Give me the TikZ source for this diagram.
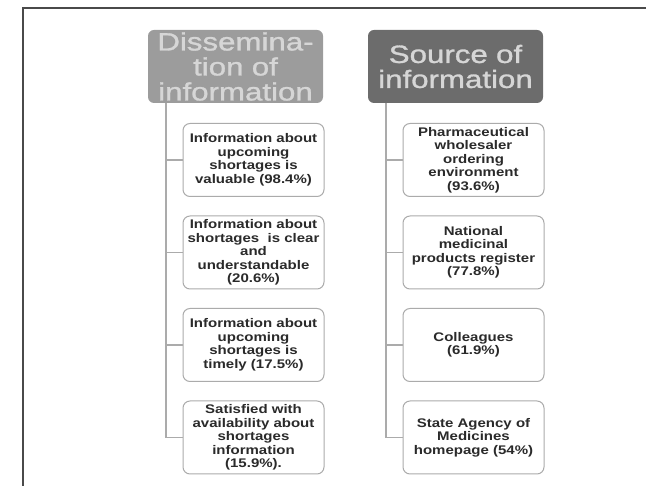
\documentclass[tikz,border=0pt]{standalone}
\usepackage{fontspec}
\usepackage{tikz}
\usetikzlibrary{positioning,calc}
\newfontfamily\boxfont[FakeStretch=1.2]{Liberation Sans}
\newfontfamily\headfont[FakeStretch=1.25,FakeBold=1.2]{Liberation Sans}
\definecolor{framegray}{HTML}{4A4A4A}
\definecolor{linegray}{HTML}{ABABAB}
\definecolor{boxgray}{HTML}{ABABAB}
\definecolor{itemtext}{HTML}{2A2A2A}
\definecolor{lighthead}{HTML}{9C9C9C}
\definecolor{darkhead}{HTML}{6C6C6C}
\definecolor{headtext}{HTML}{D6D6D6}

\begin{document}
\begin{tikzpicture}[x=1pt,y=-1pt]
  \def\row{92.5}
  \tikzset{header/.style={rounded corners=6pt,inner sep=0pt,text width=175pt,minimum height=73pt,align=center,text=headtext,font=\headfont\fontsize{25}{25}\selectfont}}
  \tikzset{item/.style={draw=boxgray,line width=1pt,fill=white,rounded corners=7pt,inner sep=0pt,text width=141pt,minimum height=73pt,align=center,text=itemtext,font=\boxfont\bfseries\fontsize{12.5}{13.5}\selectfont}}
  \tikzset{branch/.style={draw=linegray,line width=1.1pt}}
  \useasboundingbox (0,0) rectangle (646,486);
  \draw[framegray,line width=1.8pt] (23,486) |- (646,8);
  % dissemination column
  \node[header,fill=lighthead] (dhead) at (235.5,66.5) {Dissemina-\\tion of\\information};
  \coordinate (droot) at (166,103);
  \node[item] (d1) at (253.5,160) {Information about\\upcoming\\shortages is\\valuable (98.4\%)};
  \node[item] (d2) at (253.5,160+\row) {Information about\\shortages\ \ is clear\\and\\understandable\\(20.6\%)};
  \node[item] (d3) at (253.5,160+2*\row) {Information about\\upcoming\\shortages is\\timely (17.5\%)};
  \node[item] (d4) at (253.5,160+3*\row) {Satisfied with\\availability about\\shortages\\information\\(15.9\%).};
  % source column
  \node[header,fill=darkhead] (shead) at (455.5,66.5) {Source of\\information};
  \coordinate (sroot) at (386,103);
  \node[item] (s1) at (473.5,160) {Pharmaceutical\\wholesaler\\ordering\\environment\\(93.6\%)};
  \node[item] (s2) at (473.5,160+\row) {National\\medicinal\\products register\\(77.8\%)};
  \node[item] (s3) at (473.5,160+2*\row) {Colleagues\\(61.9\%)};
  \node[item] (s4) at (473.5,160+3*\row) {State Agency of\\Medicines\\homepage (54\%)};
  \foreach \i in {1,...,4} {
    \draw[branch] (droot) |- (d\i.west);
    \draw[branch] (sroot) |- (s\i.west);
  }
\end{tikzpicture}
\end{document}
